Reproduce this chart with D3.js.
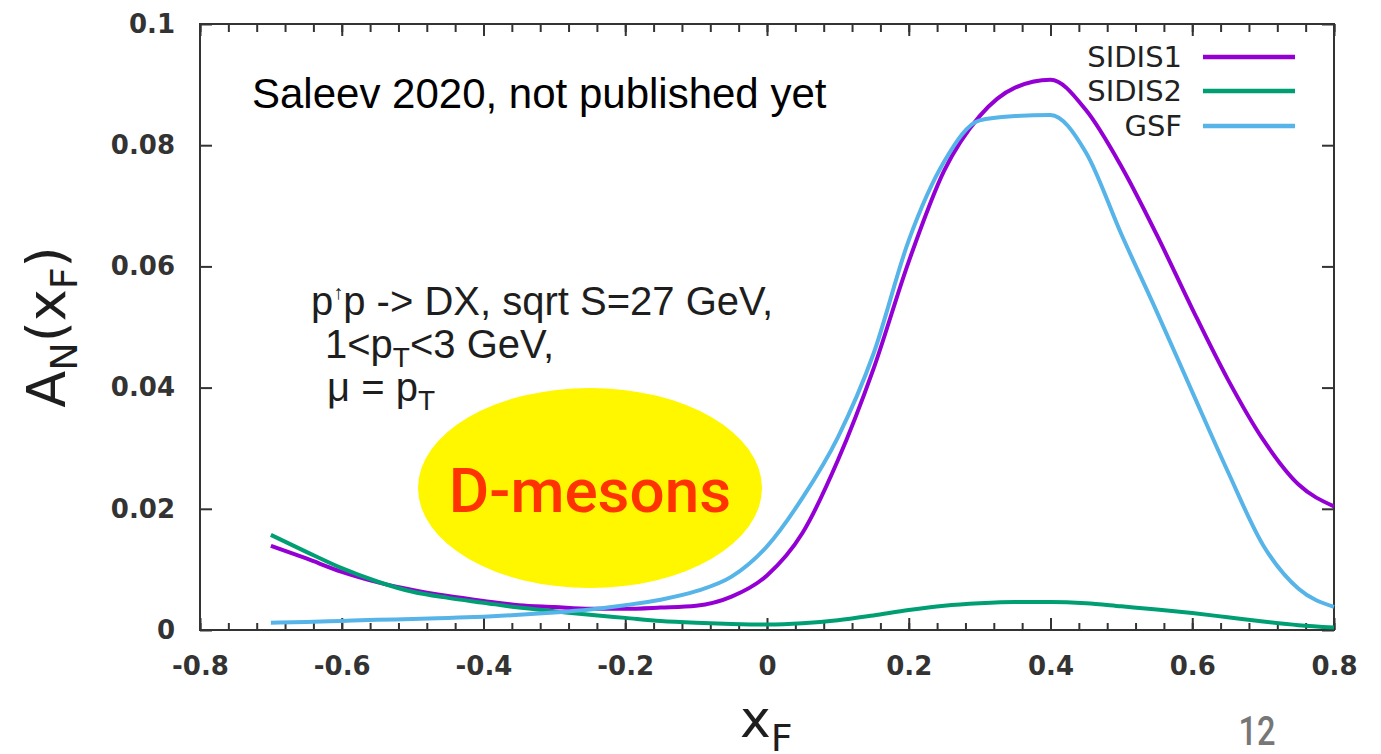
<!DOCTYPE html>
<html>
<head>
<meta charset="utf-8">
<script src="https://cdn.jsdelivr.net/npm/d3@7"></script>
<style>
  body { margin: 0; background: #fff; }
  svg { display: block; }
</style>
</head>
<body>
<svg id="chart"></svg>
<script>
// values
var xF = [-0.7, -0.65, -0.6, -0.55, -0.5, -0.45, -0.4, -0.35, -0.3, -0.25, -0.2, -0.15, -0.1, -0.05,
          0, 0.05, 0.1, 0.15, 0.2, 0.25, 0.3, 0.35, 0.4, 0.45, 0.5, 0.55, 0.6, 0.65, 0.7, 0.75, 0.8];

var sidis1 = [0.0139, 0.0118, 0.0096, 0.0079, 0.0066, 0.0056, 0.0048, 0.0041, 0.0038, 0.0035, 0.0035, 0.0037, 0.0040, 0.0055,
              0.0090, 0.0160, 0.0280, 0.0430, 0.0608, 0.0758, 0.0848, 0.0895, 0.0908, 0.0858, 0.0765, 0.0652, 0.0530, 0.0414, 0.0314, 0.0240, 0.0204];

var sidis2 = [0.0157, 0.0129, 0.0102, 0.0080, 0.0063, 0.0053, 0.0045, 0.0037, 0.0031, 0.0025, 0.0020, 0.0015, 0.0012, 0.0010,
              0.0009, 0.0011, 0.0016, 0.0024, 0.0033, 0.0040, 0.0044, 0.0046, 0.0046, 0.0044, 0.0039, 0.0034, 0.0028, 0.0021, 0.0014, 0.0008, 0.0004];

var gsf = [0.0012, 0.0013, 0.0015, 0.0017, 0.0018, 0.0020, 0.0022, 0.0025, 0.0029, 0.0034, 0.0041, 0.0050, 0.0064, 0.0088,
           0.0138, 0.0218, 0.0318, 0.0455, 0.0643, 0.0773, 0.0841, 0.0848, 0.0850, 0.0788, 0.0653, 0.0525, 0.0393, 0.0262, 0.0140, 0.0068, 0.0038];

var seriesNames = ["SIDIS1", "SIDIS2", "GSF"];
var seriesColors = ["#9400d3", "#009e73", "#56b4e9"];

var xTicks = [-0.8, -0.6, -0.4, -0.2, 0, 0.2, 0.4, 0.6, 0.8];
var xTickLabels = ["-0.8", "-0.6", "-0.4", "-0.2", "0", "0.2", "0.4", "0.6", "0.8"];
var yTicks = [0, 0.02, 0.04, 0.06, 0.08, 0.1];
var yTickLabels = ["0", "0.02", "0.04", "0.06", "0.08", "0.1"];

var W = 1381, H = 754;
var plotL = 200, plotR = 1334, plotT = 24, plotB = 630;

var svg = d3.select("#chart").attr("width", W).attr("height", H);

var x = d3.scaleLinear().domain([-0.8, 0.8]).range([plotL, plotR]);
var y = d3.scaleLinear().domain([0, 0.1]).range([plotB, plotT]);

var minorX = d3.range(-0.8, 0.8001, 0.04).map(function(v){ return +v.toFixed(2); });

function styleAxis(g) {
    g.select(".domain").remove();
    g.selectAll("line").attr("stroke", "#333").attr("stroke-width", 2);
    g.selectAll("text")
        .attr("font-family", "DejaVu Sans")
        .attr("font-weight", "bold")
        .attr("font-size", 26)
        .attr("fill", "#333");
}

// minor ticks top and bottom
svg.append("g").attr("transform", "translate(0," + plotB + ")")
    .call(d3.axisBottom(x).tickValues(minorX).tickFormat("").tickSize(-7).tickSizeOuter(0))
    .call(styleAxis);
svg.append("g").attr("transform", "translate(0," + plotT + ")")
    .call(d3.axisTop(x).tickValues(minorX).tickFormat("").tickSize(-8).tickSizeOuter(0))
    .call(styleAxis);

// major ticks
svg.append("g").attr("transform", "translate(0," + plotB + ")")
    .call(d3.axisBottom(x).tickValues(xTicks)
        .tickFormat(function(d, i){ return xTickLabels[i]; })
        .tickSize(-12).tickSizeOuter(0).tickPadding(27))
    .call(styleAxis);
svg.append("g").attr("transform", "translate(0," + plotT + ")")
    .call(d3.axisTop(x).tickValues(xTicks).tickFormat("").tickSize(-12).tickSizeOuter(0))
    .call(styleAxis);
svg.append("g").attr("transform", "translate(" + plotL + ",0)")
    .call(d3.axisLeft(y).tickValues(yTicks)
        .tickFormat(function(d, i){ return yTickLabels[i]; })
        .tickSize(-12).tickSizeOuter(0).tickPadding(25))
    .call(styleAxis);
svg.append("g").attr("transform", "translate(" + plotR + ",0)")
    .call(d3.axisRight(y).tickValues(yTicks).tickFormat("").tickSize(-12).tickSizeOuter(0))
    .call(styleAxis);

// frame
svg.append("rect")
    .attr("x", plotL).attr("y", plotT)
    .attr("width", plotR - plotL).attr("height", plotB - plotT)
    .attr("fill", "none").attr("stroke", "#333").attr("stroke-width", 2);

// curves
var allSeries = [sidis1, sidis2, gsf];
var line = d3.line()
    .x(function(d){ return x(d[0]); })
    .y(function(d){ return y(d[1]); })
    .curve(d3.curveMonotoneX);

allSeries.forEach(function(s, i){
    svg.append("path")
        .datum(xF.map(function(v, j){ return [v, s[j]]; }))
        .attr("fill", "none")
        .attr("stroke", seriesColors[i])
        .attr("stroke-width", 4)
        .attr("stroke-linejoin", "round")
        .attr("d", line);
});

// legend
var legendY = [57, 91, 126];
seriesNames.forEach(function(n, i){
    svg.append("text")
        .attr("x", 1182).attr("y", legendY[i])
        .attr("dy", "0.36em")
        .attr("text-anchor", "end")
        .attr("font-family", "DejaVu Sans")
        .attr("font-size", 29)
        .attr("fill", "#222")
        .text(n);
    svg.append("line")
        .attr("x1", 1203).attr("x2", 1295)
        .attr("y1", legendY[i]).attr("y2", legendY[i])
        .attr("stroke", seriesColors[i])
        .attr("stroke-width", 4.5);
});

// notes
svg.append("text")
    .attr("x", 252).attr("y", 108)
    .attr("font-family", "Liberation Sans")
    .attr("font-size", 42)
    .attr("fill", "#000")
    .text("Saleev 2020, not published yet");

var note = svg.append("g")
    .attr("font-family", "Liberation Sans")
    .attr("font-size", 40)
    .attr("fill", "#1e1e1e");

var l1 = note.append("text").attr("x", 311).attr("y", 315);
l1.append("tspan").text("p");
l1.append("tspan").attr("font-size", 20).attr("dy", -16).text("↑");
l1.append("tspan").attr("dy", 16).text("p -> DX, sqrt S=27 GeV,");

var l2 = note.append("text").attr("x", 325).attr("y", 358);
l2.append("tspan").text("1<p");
l2.append("tspan").attr("font-size", 28).attr("dy", 9).text("T");
l2.append("tspan").attr("dy", -9).text("<3 GeV,");

var l3 = note.append("text").attr("x", 327).attr("y", 401);
l3.append("tspan").text("μ = p");
l3.append("tspan").attr("font-size", 28).attr("dy", 9).text("T");

// yellow badge
svg.append("ellipse")
    .attr("cx", 590).attr("cy", 488)
    .attr("rx", 172).attr("ry", 100)
    .attr("fill", "#fff700");

svg.append("text")
    .attr("x", 590).attr("y", 512)
    .attr("text-anchor", "middle")
    .attr("font-family", "Roboto")
    .attr("font-weight", 500)
    .attr("font-size", 62)
    .attr("fill", "#ff3300")
    .text("D-mesons");

// axis titles
var yl = svg.append("text")
    .attr("transform", "translate(65,327) rotate(-90)")
    .attr("text-anchor", "middle")
    .attr("font-family", "DejaVu Sans")
    .attr("font-size", 54)
    .attr("fill", "#1e1e1e");
yl.append("tspan").text("A");
yl.append("tspan").attr("font-size", 38).attr("dy", 12).text("N");
yl.append("tspan").attr("dy", -12).text("(x");
yl.append("tspan").attr("font-size", 38).attr("dy", 12).text("F");
yl.append("tspan").attr("dy", -12).text(")");

var xl = svg.append("text")
    .attr("x", 740).attr("y", 737)
    .attr("font-family", "DejaVu Sans")
    .attr("font-size", 52)
    .attr("fill", "#1e1e1e");
xl.append("tspan").text("x");
xl.append("tspan").attr("font-size", 38).attr("dy", 14).text("F");

// page number
svg.append("text")
    .attr("x", 1257).attr("y", 745)
    .attr("text-anchor", "middle")
    .attr("font-family", "Roboto")
    .attr("font-weight", 500)
    .attr("font-size", 40)
    .attr("textLength", 37)
    .attr("lengthAdjust", "spacingAndGlyphs")
    .attr("fill", "#777")
    .text("12");
</script>
</body>
</html>
